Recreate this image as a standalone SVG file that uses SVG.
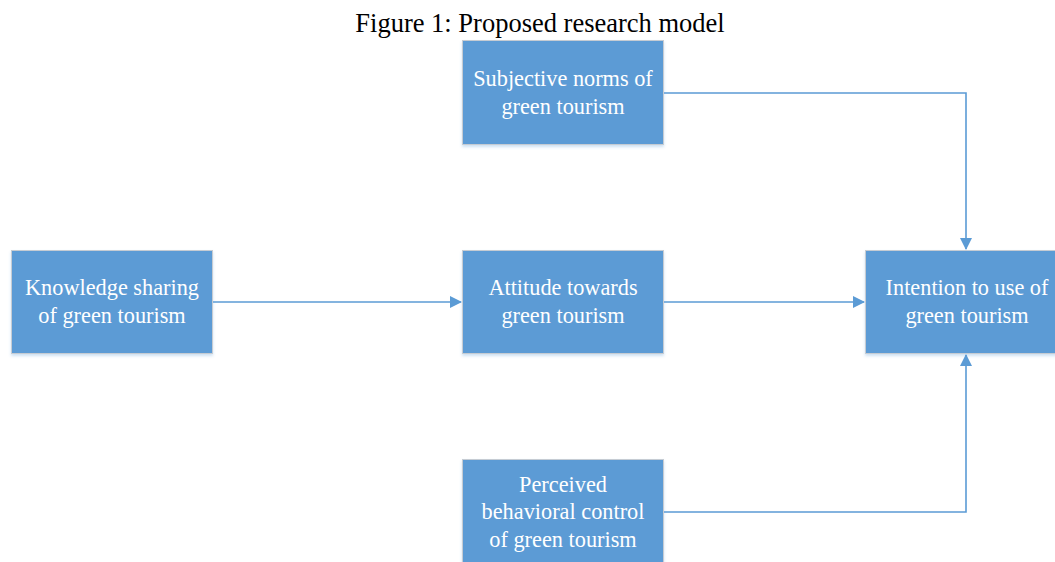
<svg xmlns="http://www.w3.org/2000/svg" width="1055" height="562" viewBox="0 0 1055 562">
<style>
.box{fill:#5b9bd5;stroke:#c6ccd3;stroke-width:1;filter:url(#sh)}
.t{font-family:"Liberation Serif","Times New Roman",serif;font-size:22.3px;fill:#ffffff;text-anchor:middle}
.title{font-family:"Liberation Serif","Times New Roman",serif;font-size:26.5px;fill:#000000;text-anchor:middle}
.c{fill:none;stroke:#5b9bd5;stroke-width:1.6}
</style>
<defs>
<filter id="sh" x="-10%" y="-10%" width="120%" height="130%">
<feDropShadow dx="0" dy="2" stdDeviation="1.5" flood-color="#5b9bd5" flood-opacity="0.3"/>
</filter>
<marker id="arr" markerWidth="12" markerHeight="12" refX="11" refY="6" orient="auto" markerUnits="userSpaceOnUse">
<path d="M0,0 L12,6 L0,12 Z" fill="#5b9bd5"/>
</marker>
</defs>
<rect width="1055" height="562" fill="#ffffff"/>
<text class="title" x="540" y="32">Figure 1: Proposed research model</text>
<g id="connectors">
<path class="c" d="M664,93 H966 V249" marker-end="url(#arr)"/>
<path class="c" d="M212,302 H461" marker-end="url(#arr)"/>
<path class="c" d="M664,302 H864" marker-end="url(#arr)"/>
<path class="c" d="M664,512 H966 V355" marker-end="url(#arr)"/>
</g>
<g id="subjective">
<rect class="box" x="462.5" y="40.5" width="201" height="104"/>
<text class="t" x="563" y="86">Subjective norms of</text>
<text class="t" x="563" y="114">green tourism</text>
</g>
<g id="knowledge">
<rect class="box" x="11.5" y="250.5" width="201" height="103"/>
<text class="t" x="112" y="295">Knowledge sharing</text>
<text class="t" x="112" y="323">of green tourism</text>
</g>
<g id="attitude">
<rect class="box" x="462.5" y="250.5" width="201" height="103"/>
<text class="t" x="563" y="295">Attitude towards</text>
<text class="t" x="563" y="323">green tourism</text>
</g>
<g id="intention">
<rect class="box" x="865.5" y="250.5" width="202" height="103"/>
<text class="t" x="967" y="295">Intention to use of</text>
<text class="t" x="967" y="323">green tourism</text>
</g>
<g id="perceived">
<rect class="box" x="462.5" y="459.5" width="201" height="110"/>
<text class="t" x="563" y="492">Perceived</text>
<text class="t" x="563" y="519">behavioral control</text>
<text class="t" x="563" y="547">of green tourism</text>
</g>
</svg>
